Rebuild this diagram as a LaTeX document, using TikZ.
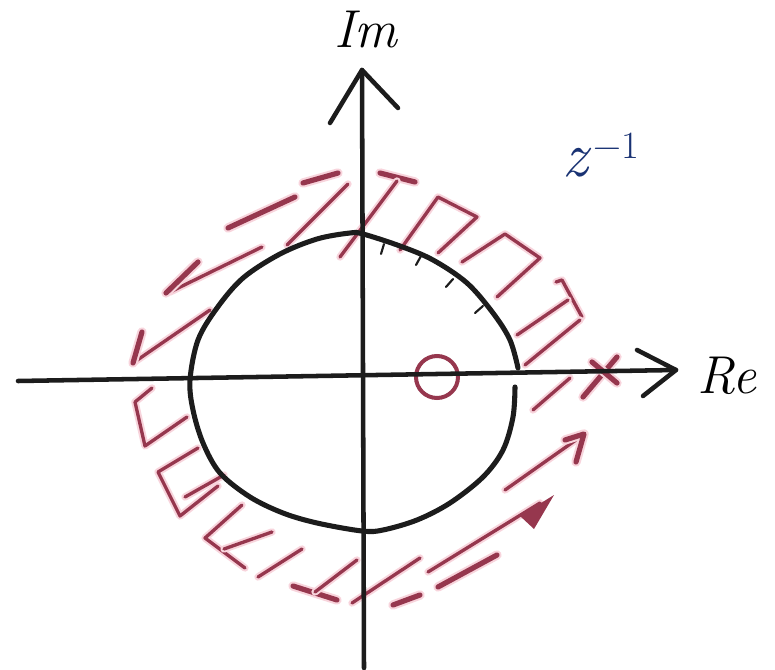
\documentclass[tikz,border=0pt]{standalone}
\usepackage{fontspec}
\definecolor{ink}{RGB}{28,28,28}
\definecolor{redink}{RGB}{150,55,78}
\definecolor{redhalo}{RGB}{248,212,220}
\definecolor{zblue}{RGB}{25,50,115}
\tikzset{
  axis/.style={draw=ink, line width=3.4pt, line cap=round, line join=round},
  ring/.style={draw=ink, line width=3.8pt, line cap=round},
  tick/.style={draw=ink, line width=1.6pt, line cap=round},
  redthin/.style={draw=redink, line width=2.5pt, line cap=round, line join=round,
     preaction={draw=redhalo, line width=5.5pt, line cap=round, line join=round}},
  redthick/.style={draw=redink, line width=3.9pt, line cap=round, line join=round,
     preaction={draw=redhalo, line width=7pt, line cap=round, line join=round}},
  lbl/.style={font=\fontsize{40}{46}\selectfont\itshape, inner sep=0pt}
}
\begin{document}
\begin{tikzpicture}[x=0.75pt,y=-0.75pt]
\useasboundingbox (0,0) rectangle (775,670);
\fill[white] (0,0) rectangle (775,670);

% ---------- red hatching (drawn first, under the axes) ----------
% upper-left quadrant: strokes and arrows
\draw[redthick] (303,183) -- (338,173);
\draw[redthick] (228,228) -- (295,197);
\draw[redthin]  (348,184) -- (287,245);
\draw[redthin]  (262,247) -- (170,292);
\draw[redthick] (166,293) -- (198,262);
\draw[redthin]  (210,310) -- (133,363);
\draw[redthick] (133,363) -- (142,332);
% near the top of the vertical axis
\draw[redthick] (380,173) -- (415,182);
\draw[redthin]  (397,181) -- (340,257);
% upper-right quadrant: comb
\draw[redthin] (400,250) -- (438,197) -- (477,217) -- (438,253);
\draw[redthin] (462,262) -- (505,234) -- (540,258) -- (497,297);
\draw[redthin] (556,282) -- (562,280) -- (582,317);
\draw[redthin] (517,335) -- (568,300);
\draw[redthin] (525,365) -- (580,320);
% near the real axis on the right
\draw[redthin] (533,410) -- (570,378);
\draw[redthick] (583,397) -- (617,357);
\draw[redthick] (592,362) -- (617,383);
% lower-right quadrant: arrows and dashes
\draw[redthin]  (505,490) -- (583,435);
\draw[redthick] (565,440) -- (584,434) -- (576,462);
\draw[redthin]  (428,572) -- (540,503);
\fill[redink] (520,516) -- (554,495) -- (534,529) -- cycle;
\draw[redthick] (438,587) -- (497,555);
\draw[redthick] (393,605) -- (420,595);
\draw[redthin]  (352,603) -- (420,558);
\draw[redthick] (293,586) -- (337,600);
\draw[redthin]  (315,592) -- (357,560);
% lower-left quadrant: comb
\draw[redthin] (152,388) -- (135,402) -- (145,446) -- (187,417);
\draw[redthin] (198,448) -- (158,472) -- (180,516) -- (218,486);
\draw[redthin] (185,497) -- (224,475);
\draw[redthin] (242,505) -- (205,538) -- (245,568);
\draw[redthin] (224,549) -- (272,532);
\draw[redthin] (258,577) -- (302,549);

% zero
\draw[draw=redink, line width=3pt] (437,377) circle (15.75pt);

% ---------- axes ----------
\coordinate (xl) at (18,381);
\coordinate (xr) at (676,370);
\coordinate (yb) at (364,668);
\coordinate (yt) at (362,70);
\draw[axis] (xl) -- (xr);
\draw[axis] (637,350) -- (xr) -- (643,396);
\draw[axis] (yb) -- (yt);
\draw[axis] (330,123) -- (yt) -- (398,108);

% ---------- unit circle (hand drawn) ----------
\draw[ring] plot[smooth, tension=0.55] coordinates {
 (515,387) (513,417) (503,450) (483,477) (450,503) (417,520) (383,530)
 (362,531) (317,523) (283,513) (250,497) (220,473) (203,443) (193,410)
 (190,380) (198,340) (217,308) (243,278) (280,254) (317,239) (350,233)
 (363,234) (400,246) (433,260) (467,283) (493,313) (510,340) (518,368)};
% small ticks on the circle
\draw[tick] (384,244) -- (381,254);
\draw[tick] (421,256) -- (416,265);
\draw[tick] (453,279) -- (446,287);
\draw[tick] (483,306) -- (475,313);

% ---------- labels ----------
\node[lbl, anchor=base] (im) at (366,48) {Im};
\node[lbl, anchor=base] (re) at (727,393) {Re};
\node[anchor=base west, inner sep=0pt, text=zblue,
      font=\fontsize{48}{52}\selectfont\itshape] (zinv) at (562,177)
  {z\hspace{4pt}\raisebox{14pt}{\fontsize{29}{32}\selectfont\upshape −1}};
\end{tikzpicture}
\end{document}
